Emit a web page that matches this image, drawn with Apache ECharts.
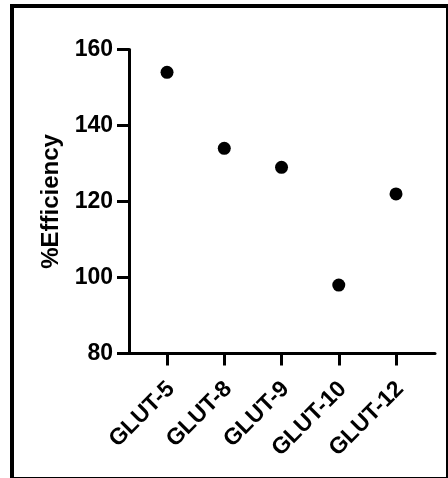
<!DOCTYPE html>
<html>
<head>
<meta charset="utf-8">
<script src="https://cdn.jsdelivr.net/npm/echarts@6/dist/echarts.min.js"></script>
<style>
  html, body { margin: 0; padding: 0; background: #fff; }
  #chart { width: 448px; height: 478px; }
</style>
</head>
<body>
<div id="chart"></div>
<script>
// 数据
const categories = ['GLUT-5', 'GLUT-8', 'GLUT-9', 'GLUT-10', 'GLUT-12'];
const efficiency = [154, 134, 129, 98, 122];
const yTicks = [80, 100, 120, 140, 160];

const FONT = '"Liberation Sans", Arial, sans-serif';

var chartDom = document.getElementById('chart');
var myChart = echarts.init(chartDom);

var option = {
    animation: false,
    backgroundColor: '#fff',
    graphic: [{
        type: 'rect',
        shape: { x: 12, y: 6, width: 436, height: 473 },
        style: { fill: 'none', stroke: '#000', lineWidth: 4 }
    }],
    grid: [
        // 画坐标轴线的 grid
        { left: 129, top: 49.5, width: 306, height: 304 },
        // 放点和刻度的 grid（类目中心对齐刻度）
        { left: 138.4, top: 49.5, width: 286.25, height: 304 },
        // 只放类目文字，稍微往右挪一点
        { left: 142.4, top: 49.5, width: 286.25, height: 304 }
    ],
    xAxis: [
        {
            type: 'value', gridIndex: 0, min: 0, max: 1,
            axisLine: { show: true, lineStyle: { color: '#000', width: 3 } },
            axisTick: { show: false }, axisLabel: { show: false }, splitLine: { show: false }
        },
        {
            type: 'category', gridIndex: 1, data: categories,
            axisLine: { show: false },
            axisTick: { show: true, interval: 0, alignWithLabel: true, length: 12, lineStyle: { color: '#000', width: 3 } },
            axisLabel: { show: false, interval: 0 },
            splitLine: { show: false }
        },
        {
            type: 'category', gridIndex: 2, data: categories,
            axisLine: { show: false }, axisTick: { show: false },
            axisLabel: {
                interval: 0, rotate: 45, margin: 32, color: '#000',
                fontFamily: FONT, fontWeight: 'bold', fontSize: 23
            },
            splitLine: { show: false }
        }
    ],
    yAxis: [
        {
            type: 'value', gridIndex: 0,
            min: yTicks[0], max: yTicks[yTicks.length - 1], interval: 20,
            name: '%Efficiency', nameLocation: 'middle', nameGap: 66,
            nameTextStyle: { color: '#000', fontFamily: FONT, fontWeight: 'bold', fontSize: 24 },
            axisLine: { show: true, lineStyle: { color: '#000', width: 3 } },
            axisTick: { show: true, length: 12, lineStyle: { color: '#000', width: 3 } },
            axisLabel: { margin: 16, color: '#000', fontFamily: FONT, fontWeight: 'bold', fontSize: 23 },
            splitLine: { show: false }
        },
        {
            type: 'value', gridIndex: 1,
            min: yTicks[0], max: yTicks[yTicks.length - 1], interval: 20,
            show: false
        },
        {
            type: 'value', gridIndex: 2,
            min: yTicks[0], max: yTicks[yTicks.length - 1], interval: 20,
            show: false
        }
    ],
    series: [{
        type: 'scatter',
        xAxisIndex: 1, yAxisIndex: 1,
        data: efficiency,
        symbol: 'circle', symbolSize: 13,
        itemStyle: { color: '#000', opacity: 1 }
    }]
};

option && myChart.setOption(option);
</script>
</body>
</html>
